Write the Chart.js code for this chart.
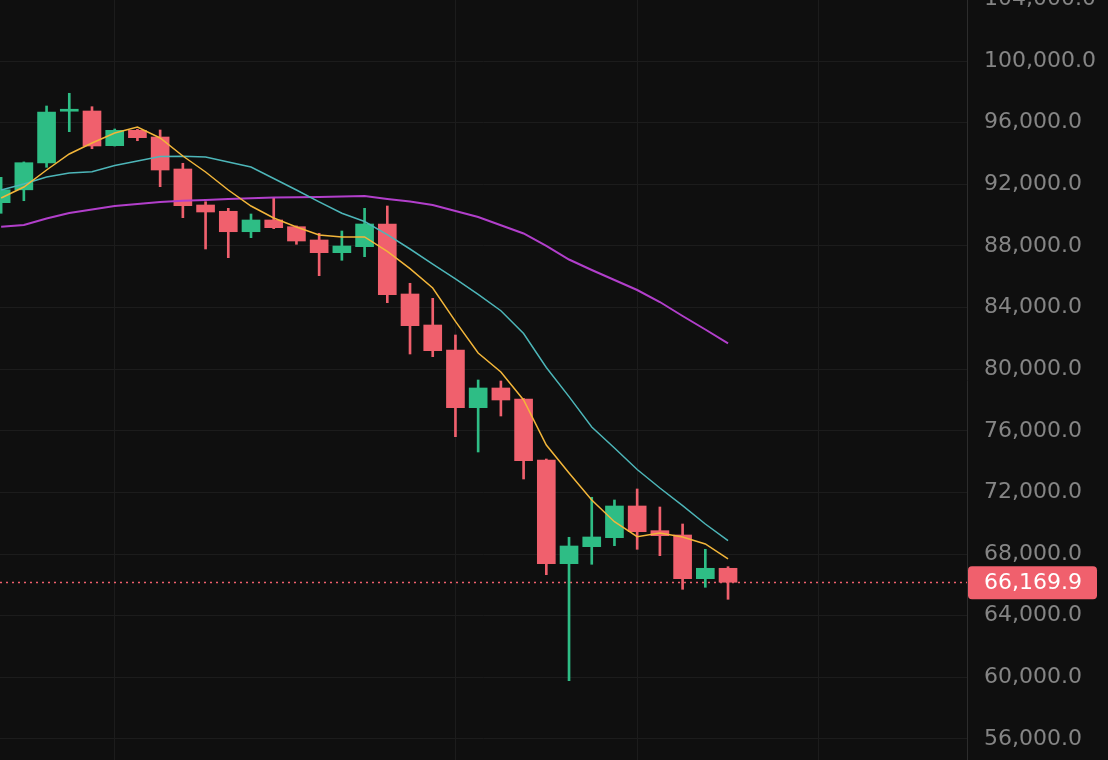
<!DOCTYPE html>
<html>
<head>
<meta charset="utf-8">
<script src="https://cdn.jsdelivr.net/npm/chart.js@4.4.1/dist/chart.umd.min.js"></script>
<style>
  html, body { margin: 0; padding: 0; background: #0f0f0f; overflow: hidden; }
  .wrap { position: relative; width: 1108px; height: 760px; }
</style>
</head>
<body>
<div class="wrap"><canvas id="chart"></canvas></div>
<script>
// candles
const opens  = [90804, 91640, 93380, 96740, 96755, 94503, 95502, 95068, 92991, 90654, 90246, 88921, 89681, 89246, 88383, 87559, 87948, 89421, 84878, 82866, 81244, 77499, 78778, 78064, 74105, 67375, 68478, 69062, 71120, 69517, 69237, 66401, 67076]
const highs  = [92452, 93450, 97080, 97904, 97034, 95587, 95567, 95522, 93361, 90868, 90440, 90070, 91154, 89300, 88818, 88967, 90440, 90590, 85573, 84599, 82217, 79297, 79232, 78100, 74170, 69088, 71684, 71509, 72223, 71055, 69951, 68309, 67180]
const lows   = [90116, 90933, 93101, 95412, 94308, 94480, 94827, 91842, 89830, 87799, 87234, 88532, 89116, 88104, 86066, 87065, 87299, 84314, 80984, 80809, 75617, 74624, 76960, 72872, 66661, 59781, 67336, 68543, 68309, 67894, 65713, 65843, 65064]
const closes = [91640, 93400, 96690, 96800, 94484, 95502, 95022, 92926, 90609, 90200, 88921, 89681, 89181, 88318, 87559, 87994, 89421, 84833, 82821, 81199, 77499, 78778, 78000, 74059, 67375, 68523, 69108, 71120, 69452, 69192, 66401, 67076, 66169.9]

// moving average lines (yellow / cyan / purple)
const maFast = [91109, 91823, 92926, 93964, 94678, 95327, 95717, 95003, 93835, 92796, 91628, 90590, 89811, 89227, 88707, 88578, 88578, 87637, 86527, 85268, 83100, 81049, 79816, 78000, 75078, 73261, 71509, 70101, 69127, 69367, 69107, 68653, 67680]
const maMid  = [91628, 92017, 92472, 92731, 92816, 93218, 93510, 93802, 93815, 93770, 93445, 93121, 92374, 91628, 90856, 90116, 89584, 88727, 87799, 86825, 85852, 84853, 83794, 82314, 80108, 78220, 76246, 74884, 73488, 72288, 71145, 69951, 68867]
const maSlow = [89246, 89356, 89778, 90135, 90362, 90590, 90719, 90849, 90934, 90979, 91044, 91089, 91141, 91154, 91174, 91206, 91239, 91044, 90881, 90654, 90265, 89876, 89337, 88805, 88000, 87117, 86436, 85787, 85138, 84359, 83450, 82574, 81678]

const yTicks = [56000, 60000, 64000, 68000, 72000, 76000, 80000, 84000, 88000, 92000, 96000, 100000, 104000]
const xGrid = [5, 20, 28, 36]

const GREEN = "#2ebd85"
const RED = "#f0606d"
const GRID = "#1c1c1c"

const idx = closes.map((_, i) => i)
const fmt = v => v.toLocaleString("en-US", { minimumFractionDigits: 1, maximumFractionDigits: 1 })
const candleColor = c => closes[c.dataIndex] >= opens[c.dataIndex] ? GREEN : RED

// dotted last price line + tag on the axis
const priceLine = {
  id: "priceLine",
  beforeDatasetsDraw(chart) {
    const { ctx, chartArea, scales: { y } } = chart
    const py = Math.round(y.getPixelForValue(closes[closes.length - 1])) + 0.5
    ctx.save()
    ctx.strokeStyle = RED
    ctx.lineWidth = 1.5
    ctx.setLineDash([2, 4])
    ctx.beginPath()
    ctx.moveTo(chartArea.left, py)
    ctx.lineTo(chartArea.right, py)
    ctx.stroke()
    ctx.restore()
  },
  afterDraw(chart) {
    const { ctx, chartArea, scales: { y } } = chart
    const last = closes[closes.length - 1]
    const py = y.getPixelForValue(last)
    ctx.save()
    ctx.fillStyle = RED
    ctx.beginPath()
    ctx.roundRect(chartArea.right + 1, py - 16, 129, 33, 4)
    ctx.fill()
    ctx.fillStyle = "#ffffff"
    ctx.font = '22px "DejaVu Sans"'
    ctx.textAlign = "left"
    ctx.textBaseline = "middle"
    ctx.fillText(fmt(last), chartArea.right + 17, py + 1)
    ctx.restore()
  }
}

const lineSet = (vals, color, width) => ({
  type: "line",
  data: idx.map(i => ({ x: i, y: vals[i] })),
  borderColor: color,
  borderWidth: width,
  pointRadius: 0,
  fill: false,
  tension: 0,
  order: 0
})

new Chart(document.getElementById("chart"), {
  type: "bar",
  data: {
    datasets: [
      lineSet(maFast, "#f3b63a", 1.5),
      lineSet(maMid, "#4db6b9", 1.5),
      lineSet(maSlow, "#b23fcb", 2),
      {
        // bodies
        data: idx.map(i => ({ x: i, y: [opens[i], closes[i]] })),
        backgroundColor: candleColor,
        barThickness: 18,
        minBarLength: 2,
        grouped: false,
        order: 1
      },
      {
        // wicks
        data: idx.map(i => ({ x: i, y: [lows[i], highs[i]] })),
        backgroundColor: candleColor,
        barThickness: 2,
        grouped: false,
        order: 2
      }
    ]
  },
  options: {
    responsive: true,
    maintainAspectRatio: false,
    animation: false,
    layout: { padding: 0 },
    plugins: { legend: { display: false }, tooltip: { enabled: false } },
    scales: {
      x: {
        type: "linear",
        min: -0.05,
        max: 42.52,
        offset: false,
        grid: { color: GRID, drawTicks: false, offset: false },
        border: { display: false },
        ticks: { display: false },
        afterBuildTicks: s => { s.ticks = xGrid.map(v => ({ value: v })) },
        afterFit: s => { s.height = 0; s.paddingLeft = 0; s.paddingRight = 0 }
      },
      y: {
        type: "linear",
        position: "right",
        min: 54634,
        max: 103959,
        beginAtZero: false,
        grid: { color: GRID, drawTicks: false },
        border: { display: true, color: "#2c2c2c", width: 1 },
        ticks: {
          color: "#858585",
          font: { family: "DejaVu Sans", size: 22 },
          padding: 17,
          autoSkip: false,
          callback: v => fmt(v)
        },
        afterBuildTicks: s => { s.ticks = yTicks.map(v => ({ value: v })) },
        afterFit: s => { s.width = 141; s.paddingTop = 0; s.paddingBottom = 0 }
      }
    }
  },
  plugins: [priceLine]
})
</script>
</body>
</html>
